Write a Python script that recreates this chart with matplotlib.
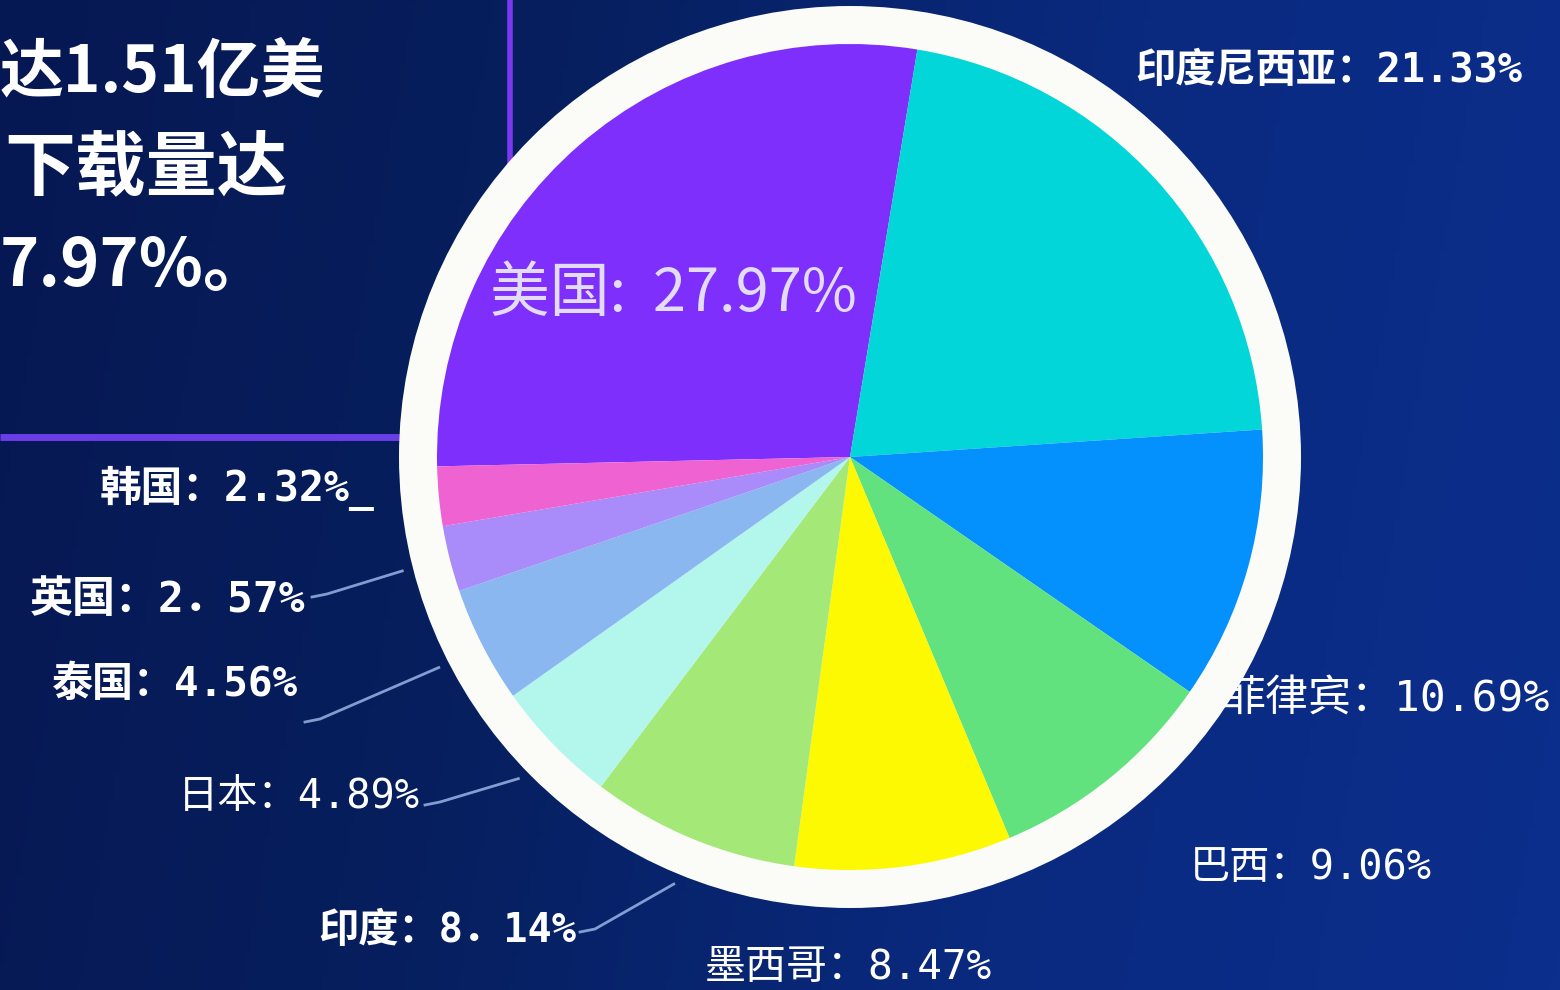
import numpy as np
import matplotlib
matplotlib.use('Agg')
import matplotlib.pyplot as plt
from matplotlib.patches import Circle
from matplotlib.colors import LinearSegmentedColormap

plt.rcParams['font.family'] = ['Noto Sans CJK SC', 'DejaVu Sans']

# ---- data ----------------------------------------------------------------
countries = ['美国', '印度尼西亚', '菲律宾', '巴西', '墨西哥',
             '印度', '日本', '泰国', '英国', '韩国']
shares = [27.97, 21.33, 10.69, 9.06, 8.47, 8.14, 4.89, 4.56, 2.57, 2.32]
label_texts = ['美国:  27.97%', '印度尼西亚：21.33%', '菲律宾：10.69%',
               '巴西：9.06%', '墨西哥：8.47%', '印度：8．14%',
               '日本：4.89%', '泰国：4.56%', '英国：2．57%', '韩国：2.32%_']
colors = ['#7f2ffb', '#02d6d8', '#0491fd', '#62e27f', '#fdf902',
          '#a4e978', '#b3f6ec', '#8bb7f0', '#a98bfa', '#ef62d2']
headline = ['达1.51亿美', '下载量达', '7.97%。']

W, H = 1560, 990
cx, cy = 850, 457

fig = plt.figure(figsize=(15.6, 9.9), dpi=100)
ax = fig.add_axes([0, 0, 1, 1])

# background gradient (dark navy on the left, brighter blue on the right)
bg = LinearSegmentedColormap.from_list('bg', ['#061853', '#061f5e', '#0a2a80', '#0c2e8c'])
gx = np.linspace(0, 1, 300)
gy = np.linspace(0, 1, 200)
GX, GY = np.meshgrid(gx, gy)
ax.imshow(GX * 0.9 + GY * 0.1, cmap=bg, extent=[0, W, H, 0], aspect='auto', zorder=0)

# purple frame lines behind the pie
ax.plot([0, cx], [437, 437], color='#6a3de6', lw=5, zorder=1, solid_capstyle='butt')
ax.plot([510, 510], [0, cy], color='#7a39f0', lw=4, zorder=1, solid_capstyle='butt')

# white ring and the pie
ax.add_patch(Circle((cx, cy), 451, fc='#fbfbf7', ec='none', zorder=3))
wedges, _ = ax.pie(shares, colors=colors, startangle=-181.3, counterclock=True,
                   center=(cx, cy), radius=413, wedgeprops=dict(linewidth=0))
for w in wedges:
    w.set_zorder(4)

# label inside the biggest slice
ax.text(490, 295, label_texts[0], color='#e3dcf7', fontsize=43, va='center',
        ha='left', zorder=6)

# outside labels: (x, y, weight, size)
label_pos = [None,
             (1135, 70, 'bold', 29),
             (1222, 700, 'normal', 31),
             (1190, 868, 'normal', 29),
             (705, 968, 'light', 29.5),
             (318, 930, 'bold', 29),
             (178, 797, 'normal', 29),
             (52, 684, 'bold', 29.5),
             (30, 600, 'bold', 31),
             (100, 488, 'bold', 30)]
for i in range(1, len(countries)):
    x, y, wt, fs = label_pos[i]
    ax.text(x, y, label_texts[i], color='white', fontsize=fs, fontweight=wt,
            va='center', ha='left', zorder=2,
            family=['DejaVu Sans Mono', 'Noto Sans CJK SC'])

# leader lines for the small slices on the lower left
ends = {8: (312, 597), 7: (305, 722), 6: (425, 805), 5: (580, 932)}
for i, (ex, ey) in ends.items():
    w = wedges[i]
    mid = np.deg2rad((w.theta1 + w.theta2) / 2)
    sx = cx + 462 * np.cos(mid)
    sy = cy + 462 * np.sin(mid)
    ax.plot([sx, ex + 15, ex], [sy, ey - 3, ey], color='#9ab3e6', lw=2,
            alpha=0.85, zorder=2)

# headline text at the top left
ax.text(0, 92, headline[0], color='white', fontsize=46, fontweight='bold',
        va='baseline', ha='left', zorder=5)
ax.text(4, 190, headline[1], color='white', fontsize=51, fontweight='bold',
        va='baseline', ha='left', zorder=5)
ax.text(0, 286, headline[2], color='white', fontsize=48, fontweight='bold',
        va='baseline', ha='left', zorder=5)

ax.set_xlim(0, W)
ax.set_ylim(H, 0)
ax.set_aspect('auto')
ax.axis('off')

fig.savefig('out.png', dpi=100)
